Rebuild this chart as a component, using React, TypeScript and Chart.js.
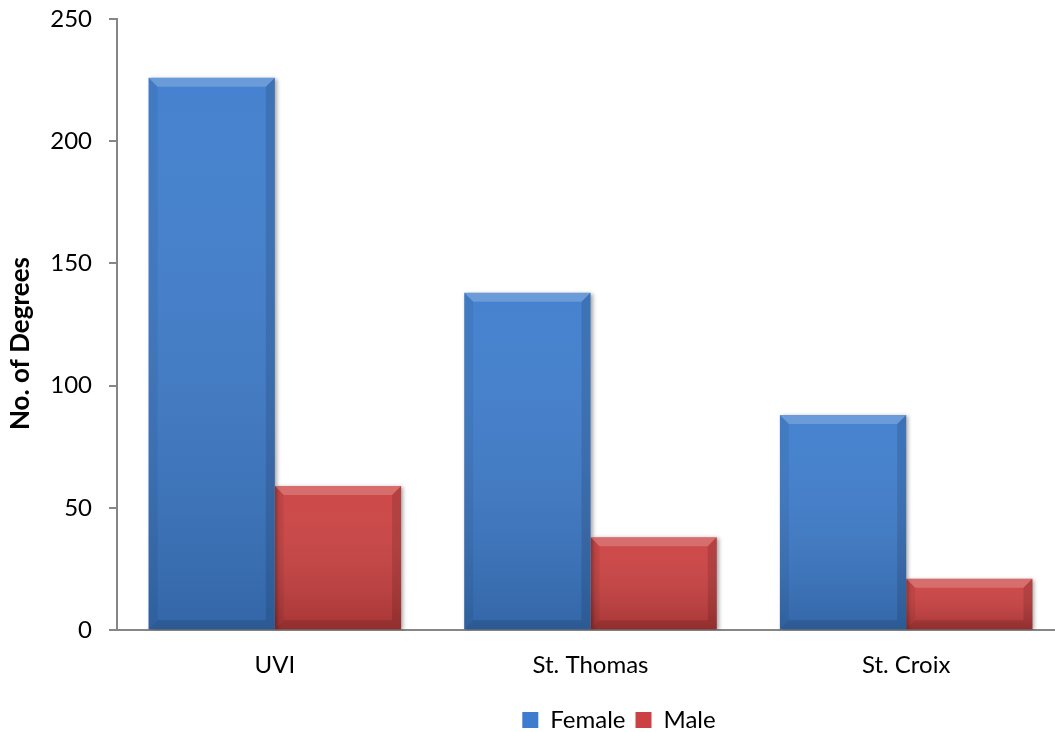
import React, { useEffect, useRef } from "react";
import { Chart, registerables } from "chart.js";

Chart.register(...registerables);

const categories = ["UVI", "St. Thomas", "St. Croix"];
const femaleValues = [226, 138, 88];
const maleValues = [59, 38, 21];
const yTicks = [0, 50, 100, 150, 200, 250];

const FONT = "Lato, 'Noto Sans', sans-serif";

const legendShiftPlugin = {
  id: "legendShift",
  afterLayout(chart: any) {
    const lg = chart.legend;
    if (lg) {
      lg.left += 87;
      lg.right += 87;
    }
  },
};

const bevelPlugin = {
  id: "bevel",
  beforeDatasetsDraw(chart: any) {
    const ctx = chart.ctx;
    ctx.save();
    ctx.shadowColor = "rgba(0,0,0,0.35)";
    ctx.shadowBlur = 4;
    ctx.shadowOffsetX = 2;
    ctx.shadowOffsetY = 1;
  },
  afterDatasetsDraw(chart: any) {
    const ctx = chart.ctx;
    ctx.restore();
    ctx.save();
    chart.data.datasets.forEach((_ds: any, di: number) => {
      const meta = chart.getDatasetMeta(di);
      meta.data.forEach((bar: any) => {
        const { x, y, base, width } = bar.getProps(["x", "y", "base", "width"], true);
        const l = x - width / 2;
        const r = x + width / 2;
        const t = Math.min(y, base);
        const b = Math.max(y, base);
        const bv = 9;
        const g = ctx.createLinearGradient(0, t, 0, b);
        g.addColorStop(0, "rgba(255,255,255,0.04)");
        g.addColorStop(1, "rgba(0,0,0,0.18)");
        ctx.fillStyle = g;
        ctx.fillRect(l, t, r - l, b - t);
        // top bevel
        ctx.beginPath();
        ctx.moveTo(l, t);
        ctx.lineTo(r, t);
        ctx.lineTo(r - bv, t + bv);
        ctx.lineTo(l + bv, t + bv);
        ctx.closePath();
        ctx.fillStyle = "rgba(255,255,255,0.2)";
        ctx.fill();
        // left bevel
        ctx.beginPath();
        ctx.moveTo(l, t);
        ctx.lineTo(l + bv, t + bv);
        ctx.lineTo(l + bv, b - bv);
        ctx.lineTo(l, b);
        ctx.closePath();
        ctx.fillStyle = "rgba(0,0,0,0.06)";
        ctx.fill();
        // right bevel
        ctx.beginPath();
        ctx.moveTo(r, t);
        ctx.lineTo(r - bv, t + bv);
        ctx.lineTo(r - bv, b - bv);
        ctx.lineTo(r, b);
        ctx.closePath();
        ctx.fillStyle = "rgba(0,0,0,0.12)";
        ctx.fill();
        // bottom bevel
        ctx.beginPath();
        ctx.moveTo(l, b);
        ctx.lineTo(l + bv, b - bv);
        ctx.lineTo(r - bv, b - bv);
        ctx.lineTo(r, b);
        ctx.closePath();
        ctx.fillStyle = "rgba(0,0,0,0.12)";
        ctx.fill();
      });
    });
    ctx.restore();
  },
};

export default function App() {
  const canvasRef = useRef<HTMLCanvasElement | null>(null);

  useEffect(() => {
    document.body.style.margin = "0";
    const canvas = canvasRef.current;
    if (!canvas) return;
    const chart = new Chart(canvas, {
      type: "bar",
      data: {
        labels: categories,
        datasets: [
          {
            label: "Female",
            data: femaleValues,
            backgroundColor: "#3e7dcd",
            borderWidth: 0,
            categoryPercentage: 0.8,
            barPercentage: 1.0,
          },
          {
            label: "Male",
            data: maleValues,
            backgroundColor: "#cc4141",
            borderWidth: 0,
            categoryPercentage: 0.8,
            barPercentage: 1.0,
          },
        ],
      },
      options: {
        responsive: false,
        animation: false,
        devicePixelRatio: 1,
        layout: { padding: { top: 19, right: 0, bottom: 4, left: 0 } },
        plugins: {
          tooltip: { enabled: false },
          legend: {
            position: "bottom",
            labels: {
              font: { family: FONT, size: 24 },
              color: "#000",
              boxWidth: 16,
              boxHeight: 16,
              padding: 10,
            },
          },
        },
        scales: {
          x: {
            grid: { display: false },
            border: { color: "#868686", width: 2 },
            afterFit(scale: any) {
              scale.height += 5;
            },
            ticks: {
              font: { family: FONT, size: 24 },
              color: "#000",
              padding: 13,
            },
          },
          y: {
            min: 0,
            max: 250,
            afterBuildTicks(scale: any) {
              scale.ticks = yTicks.map((v) => ({ value: v }));
            },
            afterFit(scale: any) {
              scale.width = 117;
              scale.paddingTop = 0;
              scale.paddingBottom = 0;
            },
            grid: {
              drawOnChartArea: false,
              drawTicks: true,
              tickLength: 8,
              color: "#868686",
              lineWidth: 2,
            },
            border: { color: "#868686", width: 2 },
            ticks: {
              font: { family: FONT, size: 24 },
              color: "#000",
              padding: 17,
            },
            title: {
              display: true,
              text: "No. of Degrees      ",
              font: { family: FONT, size: 26, weight: "bold" },
              color: "#000",
              padding: { top: 5, bottom: 0 },
            },
          },
        },
      },
      plugins: [bevelPlugin, legendShiftPlugin],
    });
    return () => chart.destroy();
  }, []);

  return (
    <div
      style={{
        position: "absolute",
        left: 0,
        top: 0,
        width: 1055,
        height: 732,
        overflow: "hidden",
        background: "#fff",
      }}
    >
      <canvas ref={canvasRef} width={1064} height={746} style={{ display: "block" }} />
    </div>
  );
}
